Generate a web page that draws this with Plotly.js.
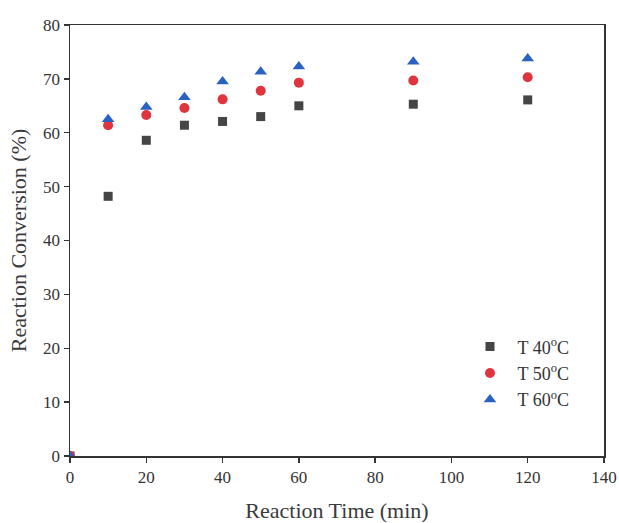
<!DOCTYPE html>
<html>
<head>
<meta charset="utf-8">
<script src="https://cdn.plot.ly/plotly-3.0.1.min.js"></script>
<style>html,body{margin:0;padding:0;background:#fff;}</style>
</head>
<body>
<div id="chart" style="width:619px;height:523px;"></div>
<script>
const times = [0, 10, 20, 30, 40, 50, 60, 90, 120];
const t40 = [0, 48.2, 58.6, 61.4, 62.1, 63.0, 65.0, 65.3, 66.1];
const t50 = [0, 61.4, 63.3, 64.6, 66.2, 67.8, 69.3, 69.7, 70.3];
const t60 = [0, 62.5, 64.8, 66.6, 69.5, 71.3, 72.3, 73.2, 73.8];
const seriesNames = ["T 40<sup>o</sup>C", "T 50<sup>o</sup>C", "T 60<sup>o</sup>C"];
const xTicks = [0, 20, 40, 60, 80, 100, 120, 140];
const yTicks = [0, 10, 20, 30, 40, 50, 60, 70, 80];

const mk = (y, name, symbol, color, size) => ({
  x: times, y: y, name: name, type: 'scatter', mode: 'markers',
  cliponaxis: true,
  marker: {symbol: symbol, color: color, size: size, line: {width: 0}}
});

const data = [
  mk(t40, seriesNames[0], 'square', '#454545', 9),
  mk(t50, seriesNames[1], 'circle', '#e0343f', 10),
  mk(t60, seriesNames[2], 'triangle-up', '#2a62c4', 11)
];

const serif = 'Liberation Serif, Times New Roman, serif';
const axisCommon = {
  showgrid: false, zeroline: false, showline: true, linecolor: '#333',
  linewidth: 1.5, mirror: true, ticks: 'outside', ticklen: 5, tickwidth: 1.3,
  tickcolor: '#333', tickfont: {family: serif, size: 17, color: '#333'}
};

const layout = {
  width: 619, height: 523,
  margin: {l: 70, r: 15, t: 25, b: 67},
  paper_bgcolor: '#fff', plot_bgcolor: '#fff',
  font: {family: serif, color: '#333'},
  xaxis: Object.assign({}, axisCommon, {
    range: [0, 140], tickvals: xTicks, ticktext: xTicks.map(String),
    title: {text: 'Reaction Time (min)', font: {size: 22, family: serif, color: '#3a3a3a'}, standoff: 16}
  }),
  yaxis: Object.assign({}, axisCommon, {
    range: [0, 80], tickvals: yTicks, ticktext: yTicks.map(String),
    title: {text: 'Reaction Conversion (%)', font: {size: 22, family: serif, color: '#3a3a3a'}, standoff: 10}
  }),
  showlegend: true,
  legend: {
    x: 0.735, y: 0.296, xanchor: 'left', yanchor: 'top',
    bgcolor: 'rgba(0,0,0,0)', borderwidth: 0,
    font: {family: serif, size: 18, color: '#333'},
    itemwidth: 45, tracegroupgap: 0
  }
};

Plotly.newPlot('chart', data, layout, {displayModeBar: false, staticPlot: true});
</script>
</body>
</html>
